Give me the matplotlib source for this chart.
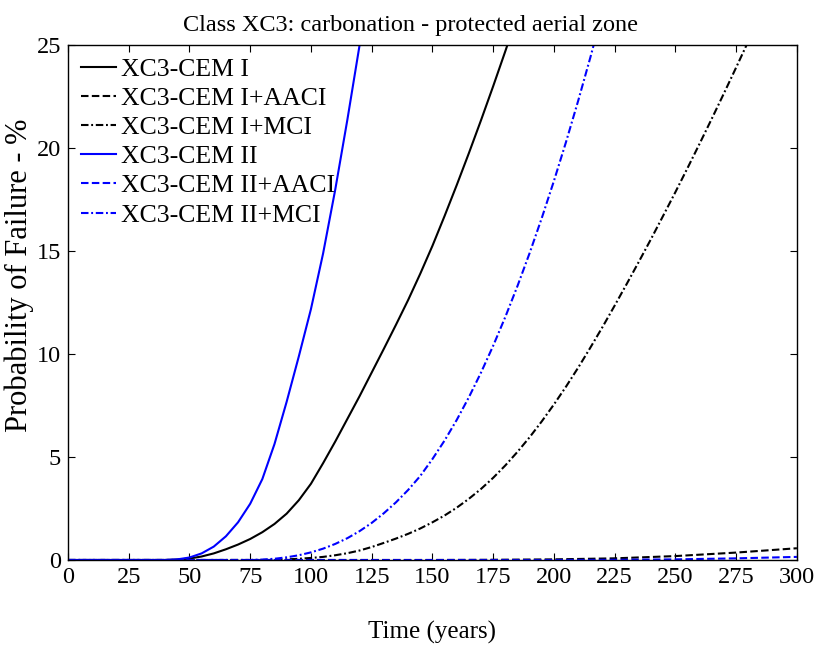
import numpy as np
import matplotlib
matplotlib.use('Agg')
import matplotlib.pyplot as plt

plt.rcParams['font.family'] = 'Liberation Serif'

# CEM I
t_cem1 = [0, 40, 45, 50, 55, 60, 65, 70, 75, 80, 85, 90, 95, 100, 105, 110, 115, 120, 125,
          130, 135, 140, 145, 150, 155, 160, 165, 170, 175, 180, 182]
p_cem1 = [0, 0, 0.02, 0.07, 0.17, 0.32, 0.52, 0.75, 1.02, 1.35, 1.75, 2.25, 2.9, 3.7, 4.7,
          5.75, 6.85, 7.95, 9.1, 10.25, 11.42, 12.62, 13.9, 15.25, 16.7, 18.2, 19.75, 21.35,
          23.0, 24.7, 25.4]

# CEM I + AACI
t_cem1_aaci = [0, 150, 175, 200, 225, 250, 275, 300]
p_cem1_aaci = [0, 0, 0.01, 0.03, 0.08, 0.19, 0.36, 0.57]

# CEM I + MCI
t_cem1_mci = [0, 80, 85, 90, 95, 100, 105, 110, 115, 120, 125, 130, 135, 140, 145, 150, 155,
              160, 165, 170, 175, 180, 185, 190, 195, 200, 205, 210, 215, 220, 225, 230, 235,
              240, 245, 250, 255, 260, 265, 270, 275, 280]
p_cem1_mci = [0, 0, 0.01, 0.03, 0.06, 0.1, 0.15, 0.23, 0.33, 0.46, 0.63, 0.83, 1.04, 1.27,
              1.53, 1.83, 2.16, 2.54, 2.97, 3.45, 3.99, 4.59, 5.25, 5.96, 6.73, 7.55, 8.42,
              9.34, 10.31, 11.31, 12.35, 13.41, 14.49, 15.59, 16.72, 17.86, 19.03, 20.22,
              21.43, 22.66, 23.91, 25.18]

# CEM II
t_cem2 = [0, 40, 45, 50, 55, 60, 65, 70, 75, 80, 85, 90, 95, 100, 105, 110, 115, 120, 121]
p_cem2 = [0, 0, 0.03, 0.12, 0.32, 0.65, 1.15, 1.83, 2.73, 3.93, 5.63, 7.68, 9.88, 12.18,
          14.88, 17.98, 21.38, 24.98, 25.7]

# CEM II + AACI
t_cem2_aaci = [0, 200, 225, 250, 275, 300]
p_cem2_aaci = [0, 0, 0.01, 0.03, 0.08, 0.15]

# CEM II + MCI
t_cem2_mci = [0, 75, 80, 85, 90, 95, 100, 105, 110, 115, 120, 125, 130, 135, 140, 145, 150,
              155, 160, 165, 170, 175, 180, 185, 190, 195, 200, 205, 210, 215, 220]
p_cem2_mci = [0, 0, 0.02, 0.06, 0.13, 0.23, 0.37, 0.55, 0.78, 1.06, 1.4, 1.8, 2.27, 2.8,
              3.4, 4.08, 4.9, 5.8, 6.8, 7.9, 9.1, 10.4, 11.8, 13.3, 14.9, 16.6, 18.4, 20.3,
              22.3, 24.4, 26.6]

labels = ['XC3-CEM I', 'XC3-CEM I+AACI', 'XC3-CEM I+MCI',
          'XC3-CEM II', 'XC3-CEM II+AACI', 'XC3-CEM II+MCI']

dash = (0, (3.6, 1.6))
dashdot = (0, (3.6, 1.3, 0.9, 1.3))

fig = plt.figure(figsize=(8.14, 6.51), dpi=100)
ax = fig.add_axes([0.0835, 0.1398, 0.8955, 0.7911])

lw = 1.5
ax.plot(t_cem1, p_cem1, color='black', ls='-', lw=lw, label=labels[0])
ax.plot(t_cem1_aaci, p_cem1_aaci, color='black', ls=dash, lw=lw, label=labels[1])
ax.plot(t_cem1_mci, p_cem1_mci, color='black', ls=dashdot, lw=lw, label=labels[2])
ax.plot(t_cem2, p_cem2, color='blue', ls='-', lw=lw, label=labels[3])
ax.plot(t_cem2_aaci, p_cem2_aaci, color='blue', ls=dash, lw=lw, label=labels[4])
ax.plot(t_cem2_mci, p_cem2_mci, color='blue', ls=dashdot, lw=lw, label=labels[5])

ax.set_xlim(0, 300)
ax.set_ylim(0, 25)
ax.set_xticks(np.arange(0, 301, 25))
ax.set_yticks(np.arange(0, 26, 5))
ax.tick_params(direction='in', top=True, right=True, length=5, labelsize=17.5, pad=5)
for s in ax.spines.values():
    s.set_linewidth(1.0)

ax.set_title('Class XC3: carbonation - protected aerial zone', fontsize=17.5, pad=10, x=0.47)
ax.set_xlabel('Time (years)', fontsize=18, labelpad=24)
ax.set_ylabel('Probability of Failure - %', fontsize=22, labelpad=2)
ax.yaxis.label.set_y(0.553)

ax.legend(loc='upper left', frameon=False, fontsize=18.5, handlelength=1.35,
          handletextpad=0.2, labelspacing=0.24, borderaxespad=0.25,
          borderpad=0.25)

fig.savefig('out.png', dpi=100)
